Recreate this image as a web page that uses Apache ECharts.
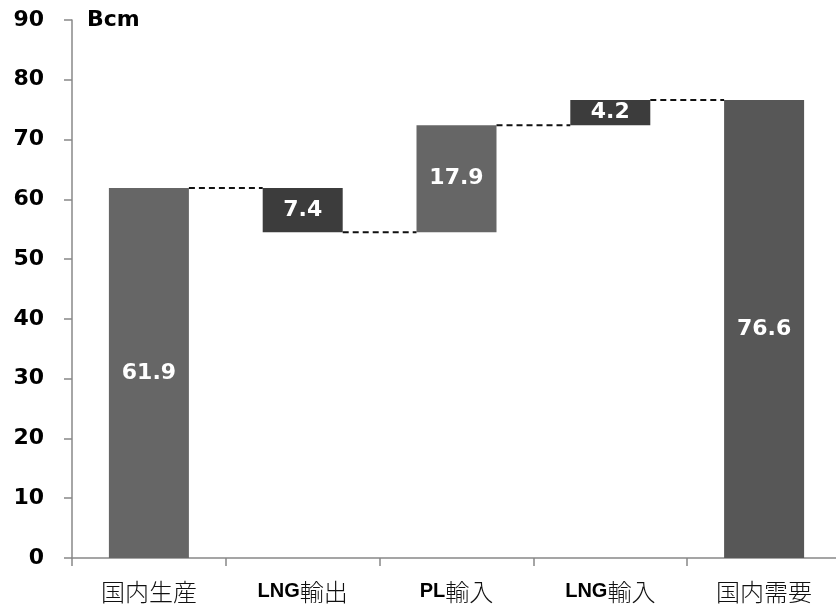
<!DOCTYPE html>
<html>
<head>
<meta charset="utf-8">
<script src="https://cdn.jsdelivr.net/npm/echarts@6/dist/echarts.min.js"></script>
<style>
  html, body { margin: 0; padding: 0; background: #fff; }
  #chart { width: 836px; height: 605px; }
</style>
</head>
<body>
<div id="chart"></div>
<script type="text/javascript">
  // Waterfall: gas balance (Bcm)
  var categories = ['国内生産', 'LNG輸出', 'PL輸入', 'LNG輸入', '国内需要'];
  var baseValues = [0, 54.5, 54.5, 72.4, 0];
  var barValues = [61.9, 7.4, 17.9, 4.2, 76.6];
  var barColors = ['#666666', '#3c3c3c', '#666666', '#3c3c3c', '#575757'];
  // connector levels between bar i and bar i+1
  var connectLevels = [61.9, 54.5, 72.4, 76.6];
  var yTicks = [0, 10, 20, 30, 40, 50, 60, 70, 80, 90];

  var BAR_W = 80;
  var NUM_FONT = '"DejaVu Sans", Verdana, sans-serif';
  var myChart = echarts.init(document.getElementById('chart'));

  var option = {
    animation: false,
    grid: { left: 72, width: 769, top: 20, bottom: 47, outerBoundsMode: 'none' },
    graphic: [{
      type: 'text',
      left: 87,
      top: 9,
      style: { text: 'Bcm', font: 'bold 22px ' + NUM_FONT, fill: '#000' }
    }],
    xAxis: {
      type: 'category',
      data: categories,
      axisLine: { lineStyle: { color: '#888', width: 1.5 } },
      axisTick: { show: true, length: 8, lineStyle: { color: '#888', width: 1.5 } },
      axisLabel: {
        margin: 22,
        formatter: function (v) {
          var m = v.match(/^([A-Za-z]*)(.*)$/);
          return (m[1] ? '{b|' + m[1] + '}' : '') + '{n|' + m[2] + '}';
        },
        rich: {
          b: { fontFamily: '"Liberation Sans", Arial', fontWeight: 'bold', fontSize: 20, color: '#000', padding: [0, 0, 2, 0] },
          n: { fontFamily: '"Noto Sans CJK JP"', fontWeight: 300, fontSize: 24, color: '#111' }
        }
      }
    },
    yAxis: {
      type: 'value',
      min: 0,
      max: 90,
      interval: 10,
      splitLine: { show: false },
      axisLine: { show: true, lineStyle: { color: '#888', width: 1.5 } },
      axisTick: { show: true, length: 8, lineStyle: { color: '#888', width: 1.5 } },
      axisLabel: {
        margin: 28,
        fontFamily: NUM_FONT,
        fontWeight: 'bold',
        fontSize: 22,
        color: '#000',
        formatter: function (v) { return yTicks.indexOf(v) >= 0 ? String(v) : ''; }
      }
    },
    series: [
      {
        type: 'bar',
        stack: 'w',
        barWidth: BAR_W,
        itemStyle: { color: 'transparent' },
        data: baseValues,
        silent: true
      },
      {
        type: 'bar',
        stack: 'w',
        barWidth: BAR_W,
        data: barValues.map(function (v, i) {
          return { value: v, itemStyle: { color: barColors[i] } };
        }),
        label: {
          show: true,
          position: 'inside',
          color: '#fff',
          fontFamily: NUM_FONT,
          fontWeight: 'bold',
          fontSize: 22,
          formatter: function (p) { return p.value.toFixed(1); }
        }
      },
      {
        type: 'custom',
        silent: true,
        data: connectLevels.map(function (v, i) { return [i, v]; }),
        renderItem: function (params, api) {
          var i = api.value(0);
          var lvl = api.value(1);
          var p1 = api.coord([i, lvl]);
          var p2 = api.coord([i + 1, lvl]);
          return {
            type: 'line',
            shape: { x1: p1[0] + BAR_W / 2, y1: p1[1], x2: p2[0] - BAR_W / 2, y2: p2[1] },
            style: { stroke: '#111', lineWidth: 2, lineDash: [6, 4] }
          };
        },
        z: 5
      }
    ]
  };

  myChart.setOption(option);
  window.addEventListener('resize', myChart.resize);
</script>
</body>
</html>
